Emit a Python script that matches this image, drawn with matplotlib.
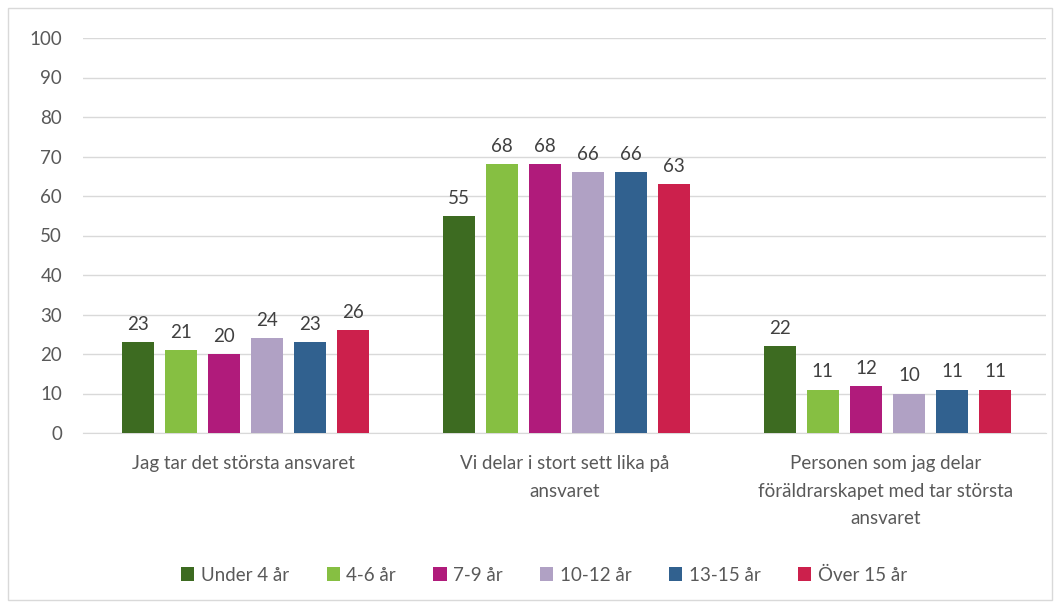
import numpy as np
import matplotlib.pyplot as plt
from matplotlib.patches import Rectangle

categories = ["Jag tar det största ansvaret",
              "Vi delar i stort sett lika på\nansvaret",
              "Personen som jag delar\nföräldrarskapet med tar största\nansvaret"]
series = ["Under 4 år", "4-6 år", "7-9 år", "10-12 år", "13-15 år", "Över 15 år"]
values = [
    [23, 55, 22],
    [21, 68, 11],
    [20, 68, 12],
    [24, 66, 10],
    [23, 66, 11],
    [26, 63, 11],
]
colors = ["#3D6B21", "#86BF42", "#B01B7B", "#B0A1C4", "#31618F", "#CC204C"]

plt.rcParams['font.family'] = ['Lato', 'DejaVu Sans']
textcol = "#595959"
fs = 13.5

fig = plt.figure(figsize=(10.6, 6.08), dpi=100)
fig.patches.append(Rectangle((8 / 1060, 8 / 608), 1044 / 1060, 592 / 608,
                             transform=fig.transFigure, fill=False,
                             edgecolor="#D9D9D9", lw=1))
ax = fig.add_axes([83 / 1060, 1 - 433 / 608, 963 / 1060, 395 / 608])

x = np.arange(len(categories))
step = 0.134
width = 0.1
for i, (name, vals, c) in enumerate(zip(series, values, colors)):
    pos = x + (i - 2.5) * step + 0.006
    bars = ax.bar(pos, vals, width, color=c, label=name, zorder=3)
    for b, v in zip(bars, vals):
        ax.text(b.get_x() + b.get_width() / 2, v + 2.3, str(v), ha="center",
                va="bottom", fontsize=fs, color="#404040")

ax.set_xlim(-0.5, 2.5)
ax.set_ylim(0, 100)
ax.set_yticks(range(0, 101, 10))
ax.grid(axis="y", color="#D9D9D9", lw=1, zorder=0)
for s in ["top", "right", "left"]:
    ax.spines[s].set_visible(False)
ax.spines["bottom"].set_color("#D9D9D9")
ax.tick_params(axis="both", length=0, labelsize=fs, colors=textcol)
ax.tick_params(axis="y", pad=15)
ax.tick_params(axis="x", pad=16)
ax.set_xticks(x)
ax.set_xticklabels(categories, linespacing=1.75)

fig.legend(loc="center", bbox_to_anchor=(544 / 1060, 1 - 575 / 608), ncol=6,
           frameon=False, fontsize=fs, handlelength=0.7, handleheight=0.7,
           handletextpad=0.35, columnspacing=2.0, labelcolor=textcol)

fig.savefig("out.png", dpi=100)
